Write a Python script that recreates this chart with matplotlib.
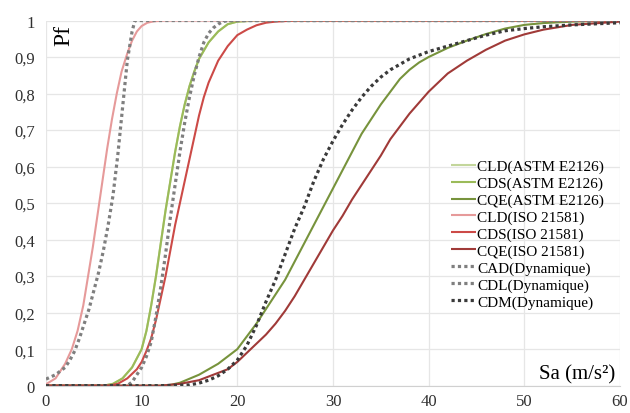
import matplotlib
matplotlib.use("Agg")
import matplotlib.pyplot as plt
from matplotlib.ticker import FuncFormatter, MultipleLocator

plt.rcParams["font.family"] = ["Liberation Serif", "DejaVu Serif"]

# --- values (Sa in m/s², Pf probability) ---
sa_cld_iso = [0, 1, 2, 2.7, 3.3, 3.9, 4.4, 4.9, 5.4, 5.9, 6.4, 6.9, 7.4, 7.9,
              8.5, 9.0, 9.5, 10.0, 10.6, 11.3, 12.5, 60]
pf_cld_iso = [0.004, 0.02, 0.06, 0.10, 0.15, 0.22, 0.30, 0.38, 0.47, 0.56, 0.65,
              0.73, 0.80, 0.86, 0.91, 0.945, 0.97, 0.985, 0.994, 0.998, 1.0, 1.0]

sa_cad = [0, 1, 2, 2.5, 3.0, 3.5, 4.0, 4.5, 5.0, 5.5, 6.0, 6.5, 7.0, 7.5, 8.0,
          8.5, 9.0, 9.3, 60]
pf_cad = [0.018, 0.03, 0.05, 0.07, 0.095, 0.13, 0.17, 0.21, 0.26, 0.31, 0.37,
          0.44, 0.52, 0.63, 0.76, 0.89, 0.97, 1.0, 1.0]

sa_cds_astm = [0, 6, 7, 8, 9, 9.5, 10, 10.5, 11, 11.5, 12, 12.5, 13, 13.5, 14,
               14.5, 15, 15.5, 16, 17, 18, 19, 20, 22, 60]
pf_cds_astm = [0, 0, 0.005, 0.02, 0.05, 0.075, 0.10, 0.15, 0.22, 0.30, 0.39,
               0.48, 0.56, 0.64, 0.71, 0.77, 0.82, 0.86, 0.895, 0.94, 0.97,
               0.99, 0.997, 1.0, 1.0]
# CLD(ASTM) lies under CDS(ASTM) in the picture
sa_cld_astm = sa_cds_astm
pf_cld_astm = pf_cds_astm

sa_cdl = [0, 8.5, 9, 9.5, 10, 10.5, 11, 11.5, 12, 12.5, 13, 13.5, 14, 14.5, 15,
          15.5, 16, 16.5, 17, 17.5, 18, 18.5, 19, 60]
pf_cdl = [0, 0, 0.01, 0.03, 0.05, 0.08, 0.12, 0.19, 0.27, 0.36, 0.46, 0.55,
          0.64, 0.72, 0.79, 0.85, 0.90, 0.94, 0.965, 0.98, 0.99, 0.997, 1.0, 1.0]

sa_cds_iso = [0, 6.5, 7.5, 8.5, 9.5, 10, 10.5, 11, 11.5, 12, 12.5, 13, 13.5, 14,
              14.5, 15, 15.5, 16, 16.5, 17, 18, 19, 20, 21, 22, 23, 24, 26, 60]
pf_cds_iso = [0, 0, 0.005, 0.02, 0.045, 0.065, 0.095, 0.13, 0.18, 0.24, 0.30,
              0.37, 0.44, 0.50, 0.56, 0.62, 0.68, 0.74, 0.79, 0.83, 0.89, 0.93,
              0.96, 0.975, 0.987, 0.994, 0.997, 1.0, 1.0]

sa_cqe_astm = [0, 12, 13, 14, 16, 18, 19, 20, 21, 22, 23, 24, 25, 26, 27, 28, 29,
               30, 31, 32, 33, 34, 35, 36, 37, 38, 39, 40, 42, 44, 46, 48, 50,
               52, 55, 60]
pf_cqe_astm = [0, 0, 0.002, 0.008, 0.03, 0.06, 0.08, 0.10, 0.135, 0.17, 0.21,
               0.25, 0.29, 0.34, 0.39, 0.44, 0.49, 0.54, 0.59, 0.64, 0.69, 0.73,
               0.77, 0.805, 0.84, 0.865, 0.885, 0.90, 0.925, 0.945, 0.963, 0.978,
               0.988, 0.993, 0.997, 1.0]

sa_cqe_iso = [0, 12, 14, 16, 18, 19, 20, 21, 22, 23, 24, 25, 26, 27, 28, 29, 30,
              31, 32, 33, 34, 35, 36, 37, 38, 40, 42, 44, 46, 48, 50, 52, 55, 60]
pf_cqe_iso = [0, 0, 0.005, 0.015, 0.035, 0.045, 0.065, 0.09, 0.115, 0.14, 0.17,
              0.205, 0.245, 0.29, 0.335, 0.38, 0.425, 0.465, 0.51, 0.55, 0.59,
              0.63, 0.675, 0.71, 0.745, 0.805, 0.855, 0.89, 0.92, 0.945, 0.962,
              0.975, 0.988, 0.997]

sa_cdm = [0, 12, 15, 16, 17, 18, 19, 20, 21, 22, 23, 24, 25, 26, 27, 28, 29, 30,
          31, 32, 33, 34, 35, 36, 38, 40, 42, 44, 46, 48, 50, 52, 55, 60]
pf_cdm = [0, 0, 0.002, 0.007, 0.015, 0.027, 0.045, 0.07, 0.11, 0.165, 0.23,
          0.29, 0.36, 0.43, 0.49, 0.56, 0.62, 0.67, 0.715, 0.755, 0.79, 0.82,
          0.845, 0.865, 0.895, 0.915, 0.93, 0.945, 0.96, 0.972, 0.978, 0.983,
          0.988, 0.994]

x_ticks = [0, 10, 20, 30, 40, 50, 60]

SOLID = "-"
DOTTED = (0, (1, 1))

# label, x, y, colour, style, width
series = [
    ("CLD(ASTM E2126)", sa_cld_astm, pf_cld_astm, "#c3d69b", SOLID, 1.5),
    ("CDS(ASTM E2126)", sa_cds_astm, pf_cds_astm, "#9bbb59", SOLID, 1.5),
    ("CQE(ASTM E2126)", sa_cqe_astm, pf_cqe_astm, "#77933c", SOLID, 1.5),
    ("CLD(ISO 21581)", sa_cld_iso, pf_cld_iso, "#e69a9a", SOLID, 1.5),
    ("CDS(ISO 21581)", sa_cds_iso, pf_cds_iso, "#cc4a47", SOLID, 1.5),
    ("CQE(ISO 21581)", sa_cqe_iso, pf_cqe_iso, "#a03a38", SOLID, 1.5),
    ("CAD(Dynamique)", sa_cad, pf_cad, "#7f7f7f", DOTTED, 2.3),
    ("CDL(Dynamique)", sa_cdl, pf_cdl, "#7f7f7f", DOTTED, 2.3),
    ("CDM(Dynamique)", sa_cdm, pf_cdm, "#3a3a3a", DOTTED, 2.3),
]

fig = plt.figure(figsize=(6.3, 4.14), dpi=100)
ax = fig.add_axes([0.073, 0.066, 0.911, 0.882])

for label, xs, ys, color, style, lw in series:
    ax.plot(xs, ys, color=color, linestyle=style, linewidth=lw, label=label,
            solid_capstyle="butt", dash_capstyle="butt")

ax.set_xlim(0, 60)
ax.set_ylim(0, 1)
ax.set_xticks(x_ticks)
ax.yaxis.set_major_locator(MultipleLocator(0.1))


def comma_fmt(v, _pos):
    s = f"{v:.1f}".rstrip("0").rstrip(".")
    return s.replace(".", ",")


ax.yaxis.set_major_formatter(FuncFormatter(comma_fmt))
ax.tick_params(axis="both", length=0, labelsize=12, colors="#303030")
ax.tick_params(axis="y", pad=8)
ax.tick_params(axis="x", pad=5)

ax.grid(True, color="#e6e6e6", linewidth=0.9)
ax.set_axisbelow(True)
for side in ("top", "right", "left"):
    ax.spines[side].set_visible(False)
ax.spines["bottom"].set_color("#d0d0d0")

ax.text(0.031, 0.99, "Pf", transform=ax.transAxes, rotation=90,
        ha="center", va="top", fontsize=17)
ax.text(0.992, 0.006, "Sa (m/s²)", transform=ax.transAxes,
        ha="right", va="bottom", fontsize=15)

ax.legend(loc="upper left", bbox_to_anchor=(0.69, 0.645), frameon=False,
          fontsize=11, handlelength=1.6, handletextpad=0.1,
          labelspacing=0.2, borderpad=0.1)

fig.savefig("out.png", dpi=100)
